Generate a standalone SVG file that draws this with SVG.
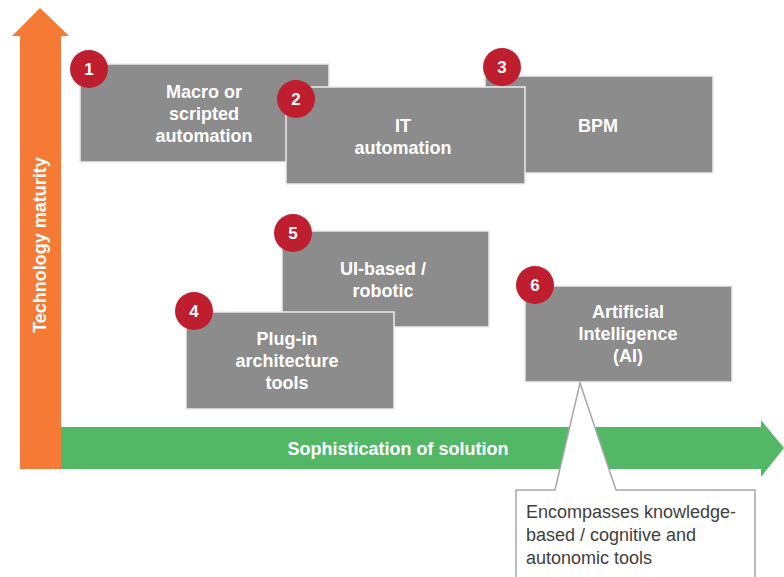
<svg xmlns="http://www.w3.org/2000/svg" width="784" height="577" viewBox="0 0 784 577">
<style>
.box{fill:#8c8c8c;stroke:#ececec;stroke-width:1.5}
.badge{fill:#be1e2d}
.num{font-family:"Liberation Sans",Arial,sans-serif;font-weight:bold;font-size:17px;fill:#ffffff;text-anchor:middle}
.lbl{font-family:"Liberation Sans",Arial,sans-serif;font-weight:bold;font-size:18px;fill:#ffffff;text-anchor:middle}
.axis{font-family:"Liberation Sans",Arial,sans-serif;font-weight:bold;font-size:18px;fill:#ffffff;text-anchor:middle}
.note{font-family:"Liberation Sans",Arial,sans-serif;font-size:18px;fill:#404040}
</style>
<rect width="784" height="577" fill="#ffffff"/>
<g id="axes">
<polygon id="y-axis" points="20,469 20,36 12,36 40,8 69,36 61,36 61,469" fill="#f47a35"/>
<text class="axis" transform="translate(46,245) rotate(-90)">Technology maturity</text>
<polygon id="x-axis" points="61,427 761,427 761,420 784,448 761,477 761,469 61,469" fill="#52b866"/>
<text class="axis" x="398" y="455">Sophistication of solution</text>
</g>
<g id="node1">
<rect class="box" x="80" y="64" width="249" height="98"/>
<circle class="badge" cx="89" cy="69" r="19"/>
<text class="num" x="89" y="75">1</text>
<text class="lbl" x="204" y="98">Macro or</text>
<text class="lbl" x="204" y="120">scripted</text>
<text class="lbl" x="204" y="142">automation</text>
</g>
<g id="node3">
<rect class="box" x="485" y="76" width="228" height="97"/>
<circle class="badge" cx="502" cy="67" r="19"/>
<text class="num" x="502" y="73">3</text>
<text class="lbl" x="598" y="132">BPM</text>
</g>
<g id="node2">
<rect class="box" x="286" y="87" width="239" height="97"/>
<circle class="badge" cx="296" cy="99" r="19"/>
<text class="num" x="296" y="105">2</text>
<text class="lbl" x="403" y="132">IT</text>
<text class="lbl" x="403" y="154">automation</text>
</g>
<g id="node5">
<rect class="box" x="282" y="231" width="207" height="96"/>
<circle class="badge" cx="293" cy="233" r="19"/>
<text class="num" x="293" y="239">5</text>
<text class="lbl" x="383" y="275">UI-based /</text>
<text class="lbl" x="383" y="297">robotic</text>
</g>
<g id="node4">
<rect class="box" x="186" y="312" width="208" height="97"/>
<circle class="badge" cx="194" cy="311" r="19"/>
<text class="num" x="194" y="317">4</text>
<text class="lbl" x="287" y="345">Plug-in</text>
<text class="lbl" x="287" y="367">architecture</text>
<text class="lbl" x="287" y="389">tools</text>
</g>
<g id="node6">
<rect class="box" x="525" y="286" width="207" height="96"/>
<circle class="badge" cx="535" cy="285" r="19"/>
<text class="num" x="535" y="291">6</text>
<text class="lbl" x="628" y="318">Artificial</text>
<text class="lbl" x="628" y="340">Intelligence</text>
<text class="lbl" x="628" y="362">(AI)</text>
</g>
<g id="callout">
<path d="M516,490 L555,490 L580,383 L616,490 L755,490 L755,580 L516,580 Z" fill="#ffffff" stroke="#a6a6a6" stroke-width="1.5" stroke-linejoin="miter"/>
<text class="note" x="526" y="518">Encompasses knowledge-</text>
<text class="note" x="526" y="541">based / cognitive and</text>
<text class="note" x="526" y="564">autonomic tools</text>
</g>
</svg>
